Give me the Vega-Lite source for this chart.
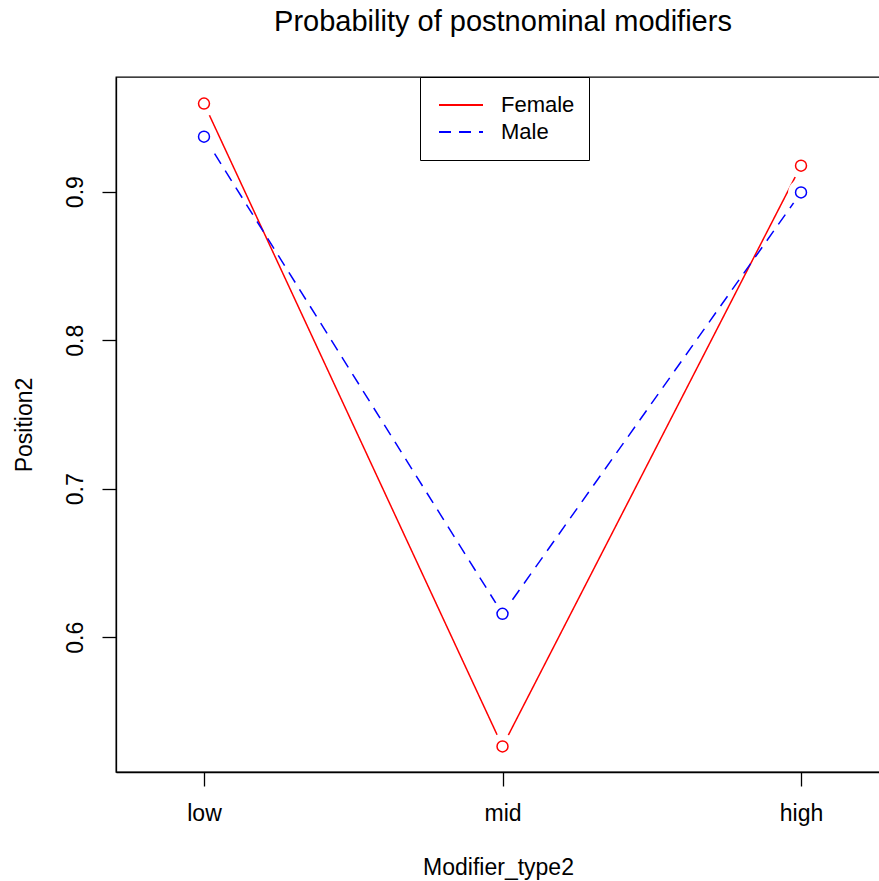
{
  "$schema": "https://vega.github.io/schema/vega-lite/v6.json",
  "width": 764,
  "height": 695,
  "autosize": {"type": "none"},
  "padding": {"left": 116, "top": 77, "right": 0, "bottom": 109},
  "background": "white",
  "title": {
    "text": "Probability of postnominal modifiers",
    "font": "Liberation Sans",
    "fontSize": 29,
    "fontWeight": "normal",
    "color": "black",
    "anchor": "middle",
    "dx": 5,
    "baseline": "alphabetic",
    "offset": 17
  },
  "data": {
    "values": [
      {"Sex": "Female", "Modifier_type2": "low", "Position2": 0.9593},
      {"Sex": "Female", "Modifier_type2": "mid", "Position2": 0.5265},
      {"Sex": "Female", "Modifier_type2": "high", "Position2": 0.9175},
      {"Sex": "Male", "Modifier_type2": "low", "Position2": 0.937},
      {"Sex": "Male", "Modifier_type2": "mid", "Position2": 0.6158},
      {"Sex": "Male", "Modifier_type2": "high", "Position2": 0.8995}
    ]
  },
  "encoding": {
    "x": {
      "field": "Modifier_type2",
      "type": "ordinal",
      "sort": ["low", "mid", "high"],
      "scale": {"type": "point", "padding": 0.2797, "align": 0.527},
      "axis": {
        "title": "Modifier_type2",
        "labelAngle": 0,
        "labelBaseline": "top",
        "labelPadding": 16,
        "titlePadding": 31
      }
    },
    "y": {
      "field": "Position2",
      "type": "quantitative",
      "scale": {"domain": [0.5093, 0.9772], "zero": false, "nice": false},
      "axis": {
        "title": "Position2",
        "values": [0.6, 0.7, 0.8, 0.9],
        "format": ".1f",
        "labelAngle": -90,
        "labelAlign": "center",
        "labelBaseline": "alphabetic",
        "labelPadding": 20,
        "titleBaseline": "alphabetic",
        "titlePadding": 33
      }
    },
    "color": {
      "field": "Sex",
      "type": "nominal",
      "scale": {"domain": ["Female", "Male"], "range": ["#ff0000", "#0000ff"]},
      "legend": {"title": null}
    }
  },
  "layer": [
    {
      "mark": {"type": "line", "strokeWidth": 1.5},
      "encoding": {
        "strokeDash": {
          "field": "Sex",
          "type": "nominal",
          "scale": {"domain": ["Female", "Male"], "range": [[1, 0], [12, 8]]},
          "legend": {"title": null}
        }
      }
    },
    {
      "mark": {"type": "point", "shape": "circle", "filled": true, "size": 660, "opacity": 1, "strokeWidth": 0},
      "encoding": {"color": {"value": "white"}}
    },
    {
      "mark": {"type": "point", "shape": "circle", "filled": false, "size": 120, "strokeWidth": 1.5, "opacity": 1}
    }
  ],
  "config": {
    "view": {"stroke": "black", "strokeWidth": 1.3},
    "axis": {
      "domainColor": "black",
      "domainWidth": 1.3,
      "tickColor": "black",
      "tickWidth": 1.3,
      "tickSize": 14,
      "labelFont": "Liberation Sans",
      "labelFontSize": 23,
      "labelColor": "black",
      "titleFont": "Liberation Sans",
      "titleFontSize": 23,
      "titleFontWeight": "normal",
      "titleColor": "black",
      "grid": false
    },
    "legend": {
      "orient": "none",
      "legendX": 304,
      "legendY": 0,
      "direction": "vertical",
      "symbolType": "stroke",
      "symbolSize": 1936,
      "symbolStrokeWidth": 2,
      "labelFont": "Liberation Sans",
      "labelFontSize": 22,
      "labelColor": "black",
      "padding": 14.5,
      "strokeColor": "black",
      "fillColor": "white",
      "clipHeight": 27,
      "symbolOffset": 3.5,
      "labelOffset": 17,
      "rowPadding": 0
    }
  }
}
